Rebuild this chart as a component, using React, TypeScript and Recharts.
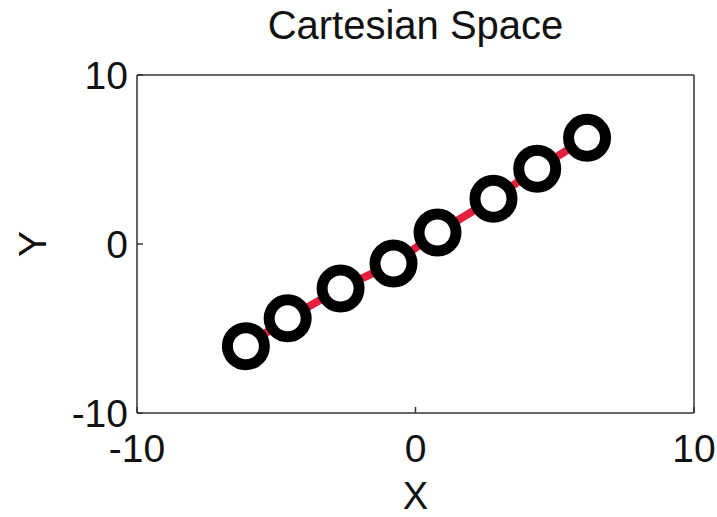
import { ScatterChart, Scatter, XAxis, YAxis, Label } from 'recharts';

// point positions
const xValues = [-6.09, -4.59, -2.69, -0.79, 0.79, 2.8, 4.37, 6.16];
const yValues = [-6.05, -4.4, -2.63, -1.15, 0.68, 2.68, 4.45, 6.28];
const axisTicks = [-10, 0, 10];
const axisDomain: [number, number] = [-10, 10];

const points = xValues.map((x, i) => ({ x, y: yValues[i] }));

const FONT = '"Liberation Sans", Arial, Helvetica, sans-serif';
const AXIS = '#333';
const tickStyle = { fontSize: 39, fill: '#111', fontFamily: FONT };
const noLabel = () => '';

function Ring(props: any) {
  const { cx, cy } = props;
  return <circle cx={cx} cy={cy} r={18.5} fill="#fff" stroke="#000" strokeWidth={11} />;
}

function YLabel(props: any) {
  const vb = props.viewBox || { x: 0, y: 0, height: 0 };
  const x = vb.x + 32;
  const y = vb.y + vb.height / 2;
  return (
    <text
      x={x}
      y={y}
      transform={`rotate(-90, ${x}, ${y})`}
      textAnchor="middle"
      dominantBaseline="central"
      fontSize={39}
      fontFamily={FONT}
      fill="#111"
    >
      Y
    </text>
  );
}

export default function App() {
  return (
    <div style={{ position: 'absolute', left: 0, top: 0, background: '#fff', fontFamily: FONT }}>
      <ScatterChart width={717} height={517} margin={{ top: 74, right: 0, bottom: 0, left: 0 }}>
        <XAxis
          xAxisId="bottom"
          dataKey="x"
          type="number"
          domain={axisDomain}
          ticks={axisTicks}
          height={104}
          tickSize={-6}
          tickMargin={27}
          tick={tickStyle}
          stroke={AXIS}
          strokeWidth={1.5}
        >
          <Label value="X" position="insideBottom" offset={8} style={{ fontSize: 38, fill: '#111', fontFamily: FONT }} />
        </XAxis>
        <XAxis
          xAxisId="top"
          orientation="top"
          type="number"
          domain={axisDomain}
          ticks={axisTicks}
          height={1}
          tickSize={6}
          tickMargin={0}
          tickFormatter={noLabel}
          stroke={AXIS}
          strokeWidth={1.5}
        >
          <Label value="Cartesian Space" position="top" offset={35} style={{ fontSize: 40, fill: '#111', fontFamily: FONT }} />
        </XAxis>
        <YAxis
          yAxisId="left"
          dataKey="y"
          type="number"
          domain={axisDomain}
          ticks={axisTicks}
          width={137}
          tickSize={-6}
          tickMargin={15}
          tick={tickStyle}
          stroke={AXIS}
          strokeWidth={1.5}
          label={{ content: YLabel }}
        />
        <YAxis
          yAxisId="right"
          orientation="right"
          type="number"
          domain={axisDomain}
          ticks={axisTicks}
          width={23}
          tickSize={-6}
          tickFormatter={noLabel}
          stroke={AXIS}
          strokeWidth={1.5}
        />
        <Scatter
          data={points}
          xAxisId="bottom"
          yAxisId="left"
          line={{ stroke: '#e4203c', strokeWidth: 8 }}
          shape={Ring}
          isAnimationActive={false}
        />
      </ScatterChart>
    </div>
  );
}
